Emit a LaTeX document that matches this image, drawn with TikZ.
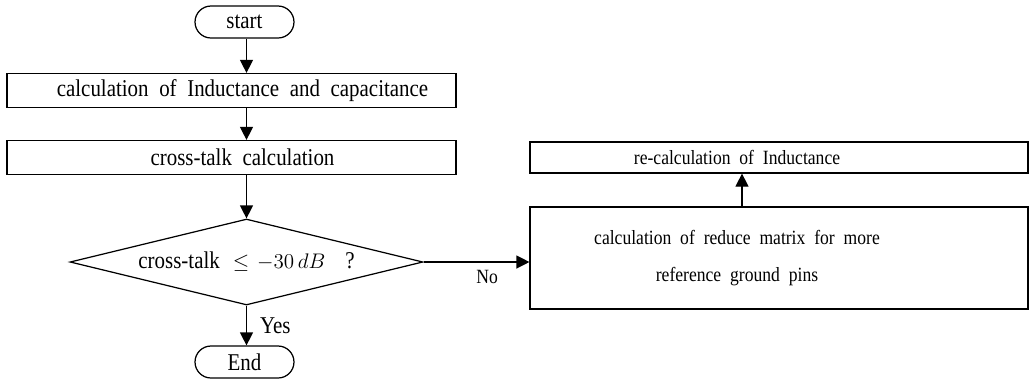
\documentclass[tikz,border=0pt]{standalone}
\usepackage{fontspec}
\setmainfont{Liberation Serif}[FakeStretch=0.87]
\usetikzlibrary{shapes.geometric,shapes.misc,arrows.meta}
\newcommand\widewords{\spaceskip=0.44em\relax}
\newcommand\mathsmall{\fontsize{11.5}{13}\selectfont}
\newcommand\leftpad{\hspace*{1.68cm}\mbox{}}
\begin{document}
\begin{tikzpicture}[x=0.02cm,y=-0.02cm,line width=0.7pt,
  font=\fontsize{13.7}{16}\selectfont\widewords,
  every node/.style={inner sep=0pt},
  smalltext/.style={font=\fontsize{11.5}{13.5}\selectfont\widewords},
  terminal/.style={draw,rounded rectangle,minimum width=1.98cm,minimum height=0.64cm},
  process/.style={draw,rectangle,minimum height=0.68cm},
  decision/.style={draw,diamond,aspect=4.1,minimum width=7.06cm,minimum height=1.72cm},
  flow/.style={-{Triangle[length=0.26cm,width=0.26cm]}}]
  \useasboundingbox (0,0) rectangle (1029,380);

  \node[terminal] (start) at (244.5,22) {start};
  \node[process,minimum width=8.98cm] (calcLC) at (231.5,90.5)
    {\hspace*{0.44cm}calculation of Inductance and capacitance};
  \node[process,minimum width=8.98cm] (xtalk) at (231.5,157.5)
    {\hspace*{0.44cm}cross-talk calculation};
  \node[decision] (check) at (246.5,262)
    {cross-talk\hspace{0.26cm}{\mathsmall\(\leq\)\hspace{0.16cm}\(-30\,dB\)}\hspace{0.4cm}?};
  \node[terminal] (end) at (244.5,362) {End};
  \node[process,smalltext,minimum width=9.96cm,minimum height=0.62cm] (recalc) at (779,157.5)
    {re-calculation of Inductance\leftpad};
  \node[process,smalltext,minimum width=9.96cm,minimum height=2.04cm,align=center] (reduce) at (779,258)
    {calculation of reduce matrix for more\leftpad\\[8pt]reference ground pins\leftpad};
  \coordinate (riser) at (742,0);

  \draw[flow] (start.south -| check.north) -- (calcLC.north -| check.north);
  \draw[flow] (calcLC.south -| check.north) -- (xtalk.north -| check.north);
  \draw[flow] (xtalk.south -| check.north) -- (check.north);
  \draw[flow] (check.south) -- node[right=0.26cm] {Yes} (end.north -| check.south);
  \draw[flow] (check.east) -- node[pos=0.6,below=0.16cm,smalltext] {No} (reduce.west |- check.east);
  \draw[flow] (reduce.north -| riser) -- (recalc.south -| riser);
\end{tikzpicture}
\end{document}
